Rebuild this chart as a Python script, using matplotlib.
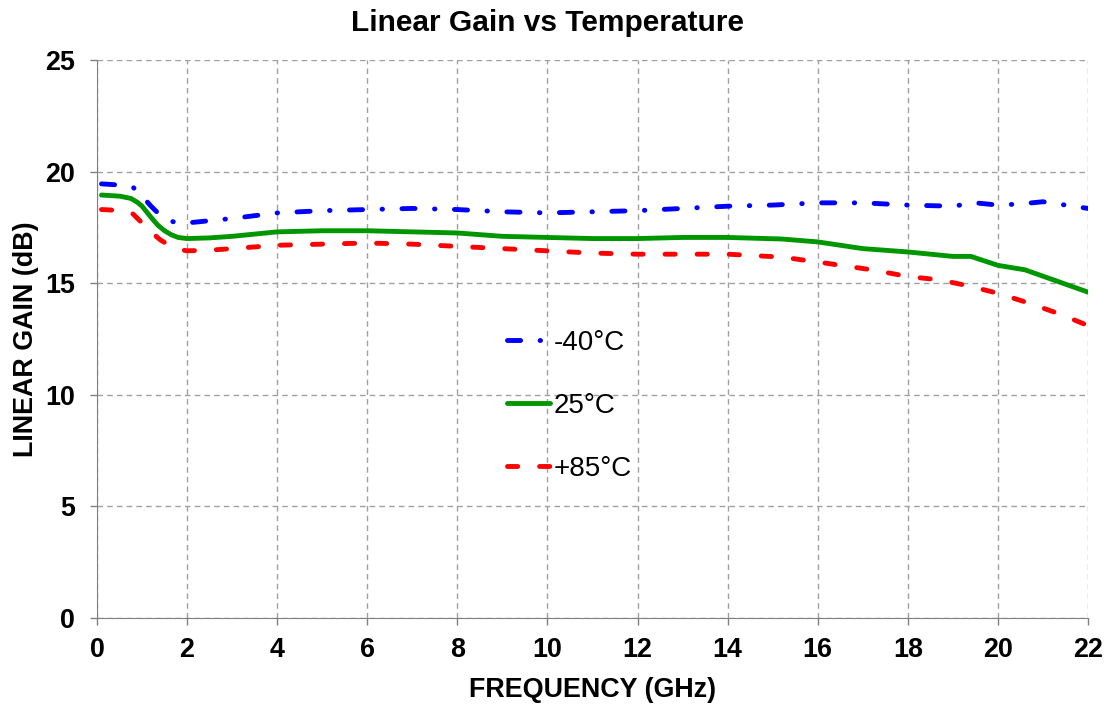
import matplotlib
matplotlib.use("Agg")
import matplotlib.pyplot as plt
import numpy as np

plt.rcParams['font.family'] = ['Liberation Sans', 'DejaVu Sans']

freq_m40 = [0.1, 0.5, 0.8, 1.0, 1.2, 1.4, 1.6, 1.8, 2.0, 3.0, 4.0, 5.0, 6.0, 7.0, 8.0, 9.0, 10.0, 11.0, 12.0, 13.0,
            14.0, 15.0, 16.0, 17.0, 18.0, 19.0, 19.5, 20.0, 20.5, 21.0, 21.5, 22.0]
gain_m40 = [19.45, 19.4, 19.3, 18.9, 18.45, 18.05, 17.8, 17.7, 17.7, 17.9, 18.15, 18.25, 18.3, 18.35, 18.3, 18.2, 18.15,
            18.2, 18.25, 18.35, 18.45, 18.5, 18.6, 18.6, 18.5, 18.45, 18.6, 18.5, 18.55, 18.65, 18.5, 18.35]

freq_25 = [0.1, 0.5, 0.75, 0.9, 1.0, 1.2, 1.35, 1.5, 1.65, 1.8, 2.0, 2.5, 3.0, 4.0, 5.0, 6.0, 7.0, 8.0, 9.0, 10.0, 11.0, 12.0,
           13.0, 14.0, 15.2, 16.0, 17.0, 18.0, 19.0, 19.4, 20.0, 20.6, 21.3, 22.0]
gain_25 = [18.95, 18.9, 18.8, 18.62, 18.45, 17.95, 17.6, 17.35, 17.17, 17.05, 17.0, 17.03, 17.1, 17.3, 17.35, 17.35, 17.3, 17.25, 17.1,
           17.05, 17.0, 17.0, 17.05, 17.05, 16.98, 16.85, 16.55, 16.4, 16.2, 16.2, 15.8, 15.6, 15.1, 14.6]

freq_85 = [0.1, 0.6, 0.8, 1.0, 1.2, 1.4, 1.6, 1.8, 2.0, 2.5, 3.0, 4.0, 5.0, 6.0, 7.0, 8.0, 9.0, 10.0, 11.0, 12.0, 13.0,
           14.0, 15.2, 16.0, 17.2, 18.0, 18.7, 19.3, 20.0, 20.7, 21.4, 22.0]
gain_85 = [18.3, 18.25, 18.1, 17.7, 17.3, 16.95, 16.7, 16.52, 16.45, 16.48, 16.55, 16.7, 16.75, 16.8, 16.75, 16.65, 16.55, 16.45,
           16.35, 16.3, 16.3, 16.3, 16.17, 15.95, 15.6, 15.3, 15.15, 14.9, 14.55, 14.1, 13.6, 13.1]

labels = ['-40°C', '25°C', '+85°C']
xticks = list(range(0, 23, 2))
yticks = [0, 5, 10, 15, 20, 25]

W, H = 1107, 706
fig = plt.figure(figsize=(W / 100, H / 100), dpi=100)
L, R, T, B = 97, 1088, 60, 618
ax = fig.add_axes([L / W, 1 - B / H, (R - L) / W, (B - T) / H])

ax.plot(freq_m40, gain_m40, color='#0000ff', lw=3.5, dashes=(2.7, 4, 0.1, 4), label=labels[0],
        dash_capstyle='round', solid_capstyle='round', solid_joinstyle='round', dash_joinstyle='round')
ax.plot(freq_25, gain_25, color='#009600', lw=3.5, label=labels[1], solid_capstyle='round',
        solid_joinstyle='round')
ax.plot(freq_85, gain_85, color='#ff0000', lw=3.5, dashes=(2.1, 4.5), label=labels[2],
        dash_capstyle='round', dash_joinstyle='round')

ax.set_xlim(0, 22)
ax.set_ylim(0, 25)
ax.set_xticks(xticks)
ax.set_yticks(yticks)
ax.grid(True, color='#a0a0a0', linestyle=(0, (4, 3)), lw=1)
ax.tick_params(direction='out', length=5, color='#808080', labelsize=19.4, width=1)
ax.tick_params(axis='x', pad=9)
ax.tick_params(axis='y', pad=11)
for lab in ax.get_xticklabels() + ax.get_yticklabels():
    lab.set_fontweight('bold')
for s in ['top', 'right']:
    ax.spines[s].set_visible(False)
for s in ['left', 'bottom']:
    ax.spines[s].set_color('#808080')

ax.set_xlabel('FREQUENCY (GHz)', fontsize=19.4, fontweight='bold')
ax.set_ylabel('LINEAR GAIN (dB)', fontsize=19.4, fontweight='bold')
ax.xaxis.set_label_coords(0.5, (B - 697) / (B - T))
ax.xaxis.label.set_verticalalignment('baseline')
ax.yaxis.set_label_coords((33 - L) / (R - L), 0.5)
ax.yaxis.label.set_verticalalignment('baseline')

fig.text(547.5 / W, 1 - 31 / H, 'Linear Gain vs Temperature', fontsize=21.5, fontweight='bold',
         ha='center', va='baseline')

leg = ax.legend(loc='upper left', bbox_to_anchor=((507 - L) / (R - L), (B - 330) / (B - T)),
                frameon=False, fontsize=20, borderpad=0, borderaxespad=0,
                handlelength=1.55, labelspacing=1.33, handletextpad=0.12)

fig.savefig('out.png', dpi=100)
